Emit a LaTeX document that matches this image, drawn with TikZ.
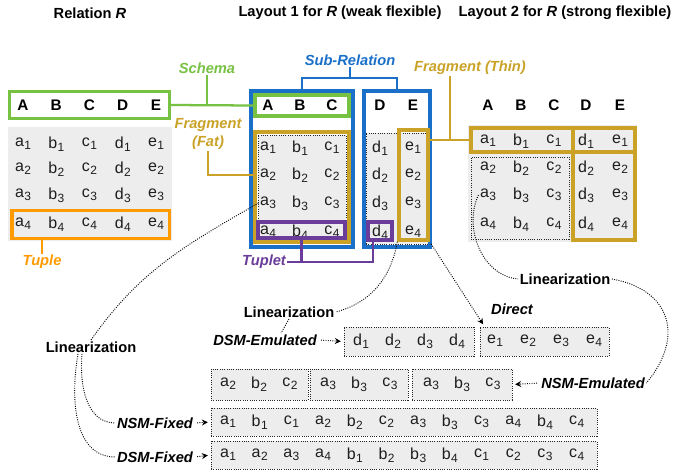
\documentclass[tikz,border=0pt]{standalone}
\usepackage{fontspec}
\setmainfont{Liberation Sans}
\usepackage{tikz}
\usetikzlibrary{calc, positioning, arrows.meta, fit}
\definecolor{schemagreen}{HTML}{77C143}
\definecolor{tupleorange}{HTML}{FF9A00}
\definecolor{fraggold}{HTML}{C9A227}
\definecolor{subblue}{HTML}{1A6FC9}
\definecolor{tupletpurple}{HTML}{6A3D9A}
\definecolor{cellgray}{HTML}{EDEDED}
\definecolor{inkgray}{HTML}{1E1E1E}
\newcommand{\ent}[2]{#1\kern.3pt{\fontsize{9}{10}\selectfont\raisebox{-2.2pt}{#2}}}
\tikzset{
	cell/.style={
		inner sep=1pt,
		text=inkgray,
		font=\fontsize{12}{14}\selectfont
	},
	colhead/.style={
		inner sep=1pt,
		font=\fontsize{11.5}{14}\selectfont\bfseries
	},
	title/.style={
		inner sep=1pt,
		font=\fontsize{11}{13.5}\selectfont\bfseries
	},
	tag/.style={
		inner sep=1pt,
		font=\fontsize{11}{13.5}\selectfont\bfseries\itshape
	},
	region/.style={
		fill=cellgray,
		inner sep=0pt
	},
	dotbox/.style={
		draw=black!85,
		densely dotted,
		line width=.7pt,
		fill=cellgray,
		inner sep=0pt
	},
	boxframe/.style={
		draw=#1,
		line width=2.5pt,
		inner sep=0pt
	},
	bracketline/.style={
		draw=#1,
		line width=1.7pt
	},
	lin/.style={
		densely dotted,
		line width=.7pt
	},
	linarrow/.style={
		lin,
		-{Stealth[length=4.5pt, width=4.5pt]},
		shorten <=2pt,
		shorten >=2pt
	}
}

\begin{document}
\begin{tikzpicture}[x=.75pt, y=-.75pt]
\useasboundingbox (0,0) rectangle (673,475);

\node[title] (tR) at (90,13) {Relation \textit{R}};
\node[title] (tL1) at (340,13) {Layout 1 for \textit{R} (weak flexible)};
\node[title] (tL2) at (565,13) {Layout 2 for \textit{R} (strong flexible)};

\node[region, fit={(8,127) (172,241)}] (relBody) {};
\foreach \C [count=\k from 0] in {A,B,C,D,E}
	\node[colhead] (rH\C) at ({23+33.25*\k},105) {\C};
\foreach \row/\y in {1/144,2/169,3/195,4/224}
	\foreach \col [count=\k from 0] in {a,b,c,d,e}
		\node[cell] (r\col\row) at ({23+33.25*\k},\y) {\ent{\col}{\row}};
\node[boxframe=schemagreen, fit={(9.5,91.5) (169.5,118.5)}] (schemaR) {};
\node[boxframe=tupleorange, fit={(12,210.5) (169.5,238.5)}] (tupleBox) {};

\node[dotbox, fit={(258,135) (346,239)}] (fatDots) {};
\node[dotbox, fit={(366,133) (429,244)}] (deDots) {};
\foreach \C/\x in {A/268,B/300,C/332,D/380,E/413}
	\node[colhead] (oH\C) at (\x,105) {\C};
\foreach \col/\x in {a/268,b/300,c/332,d/380,e/413}
	\foreach \row/\y in {1/148,2/175,3/203,4/232}
		\node[cell] (o\col\row) at (\x,\y) {\ent{\col}{\row}};
\node[boxframe=subblue, fit={(251,91) (353,247)}] (subL) {};
\node[boxframe=subblue, fit={(364,91) (430,247)}] (subR) {};
\node[boxframe=schemagreen, fit={(255,95) (349,116)}] (schemaL1) {};
\node[boxframe=fraggold, fit={(255,132) (349,242)}] (fatL1) {};
\node[boxframe=fraggold, fit={(399,130) (428,240)}] (thinL1) {};
\node[boxframe=tupletpurple, fit={(258,222) (345,238)}] (tupletL) {};
\node[boxframe=tupletpurple, fit={(368,222) (392,240)}] (tupletR) {};

\node[region, fit={(468,125) (637,242)}] (l2Body) {};
\node[dotbox, fit={(471,157) (569,239)}] (l2Dots) {};
\foreach \C/\x in {A/488,B/521,C/554,D/586,E/620}
	\node[colhead] (pH\C) at (\x,105) {\C};
\foreach \col/\x in {a/488,b/521,c/554,d/586,e/620}
	\foreach \row/\y in {1/141,2/168,3/195,4/224}
		\node[cell] (p\col\row) at (\x,\y) {\ent{\col}{\row}};
\node[boxframe=fraggold, fit={(471,128) (573,152)}] (thinABC) {};
\node[boxframe=fraggold, fit={(573,128) (635,152)}] (thinDE) {};
\node[boxframe=fraggold, fit={(573,152) (635,240)}] (fatDE) {};

\node[dotbox, fit={(344,327) (474,356)}] (dsmD) {};
\node[dotbox, fit={(480,327) (609,356)}] (dsmE2) {};
\foreach \row [count=\k from 0] in {1,2,3,4} {
	\node[cell] (dd\row) at ({361+32*\k},341) {\ent{d}{\row}};
	\node[cell] (de\row) at ({495+33*\k},341) {\ent{e}{\row}};
}
\node[dotbox, fit={(211,369) (308,400)}] (nsmE1) {};
\node[dotbox, fit={(310,369) (408,400)}] (nsmE2) {};
\node[dotbox, fit={(412,369) (512,400)}] (nsmE3) {};
\foreach \n/\cx/\row in {1/259/2,2/359/3,3/462/3}
	\foreach \col [count=\k from -1] in {a,b,c}
		\node[cell] (ne\n\col) at ({\cx+31*\k},384) {\ent{\col}{\row}};
\node[dotbox, fit={(211,408) (597,436)}] (nsmFix) {};
\node[dotbox, fit={(211,441) (597,469)}] (dsmFix) {};
\foreach \col/\row [count=\k from 0] in {a/1,b/1,c/1,a/2,b/2,c/2,a/3,b/3,c/3,a/4,b/4,c/4}
	\node[cell] (nf\k) at ({228+31.7*\k},422) {\ent{\col}{\row}};
\foreach \col/\row [count=\k from 0] in {a/1,a/2,a/3,a/4,b/1,b/2,b/3,b/4,c/1,c/2,c/3,c/4}
	\node[cell] (df\k) at ({228+31.7*\k},455) {\ent{\col}{\row}};

\node[tag, text=schemagreen] (schemaLbl) at (207,68) {Schema};
\node[tag, text=fraggold, align=center] (fatLbl) at (208,134) {Fragment\\(Fat)};
\node[tag, text=subblue] (subLbl) at (350,60) {Sub-Relation};
\node[tag, text=fraggold] (thinLbl) at (470,68) {Fragment (Thin)};
\node[tag, text=tupleorange] (tupleLbl) at (42,262) {Tuple};
\node[tag, text=tupletpurple] (tupletLbl) at (264,262) {Tuplet};
\node[title] (linL) at (91,347) {Linearization};
\node[title] (linM) at (289,312) {Linearization};
\node[title] (linR) at (565,279) {Linearization};
\node[tag] (directLbl) at (512,309) {Direct};
\node[tag] (dsmEm) at (265,340) {DSM-Emulated};
\node[tag] (nsmEm) at (593,383) {NSM-Emulated};
\node[tag] (nsmFx) at (155,423) {NSM-Fixed};
\node[tag] (dsmFx) at (155,457) {DSM-Fixed};

\draw[bracketline=schemagreen] (schemaR.east) -- (schemaL1.west);
\draw[bracketline=schemagreen] (schemaLbl.south) -- (schemaLbl.south |- schemaR.east);
\draw[bracketline=fraggold] (fatLbl.south) |- (fatL1.west |- oa2);
\draw[bracketline=subblue] (subL.north) -- ++(0,-11) coordinate (subJoin) -| (subR.north);
\draw[bracketline=subblue] (subLbl.south) -- (subLbl.south |- subJoin);
\draw[bracketline=fraggold] (thinL1.east |- thinABC.west) -- (thinABC.west);
\coordinate (thinJoin) at ($(thinABC.west)+(-19,0)$);
\draw[bracketline=fraggold] (thinJoin |- thinLbl.south) -- (thinJoin);
\draw[bracketline=tupleorange] (tupleBox.south -| tupleLbl.north) -- (tupleLbl.north);
\draw[bracketline=tupletpurple] (tupletLbl.east) -| ($(tupletR.south)+(-7,0)$);
\draw[bracketline=tupletpurple] (tupletL.south) -- (tupletL.south |- tupletLbl.east);

\draw[lin] (oa3.west) to[out=-150, in=55] (linL.north);
\draw[lin] ($(linL.south)+(-9,0)$) to[out=-95, in=180] (nsmFx.west);
\draw[lin] ($(linL.south)+(-13,0)$) to[out=-100, in=180] (dsmFx.west);
\draw[lin] (thinL1.south west) to[out=-100, in=15] (linM.east);
\draw[lin] (linM.south) -- ($(dsmEm.north)+(16,0)$);
\draw[linarrow] (thinL1.south east) -- ($(dsmE2.north west)+(5,0)$);
\draw[lin] (pa3.west) to[out=-115, in=175] (linR.west);
\draw[lin] (linR.east) to[out=-10, in=50, looseness=1.4] (nsmEm.east);
\draw[linarrow] (dsmEm.east) -- (dsmD.west);
\draw[linarrow] (nsmEm.west) -- (nsmE3.east);
\draw[linarrow] (nsmFx.east) -- (nsmFix.west);
\draw[linarrow] (dsmFx.east) -- (dsmFix.west);
\end{tikzpicture}
\end{document}
